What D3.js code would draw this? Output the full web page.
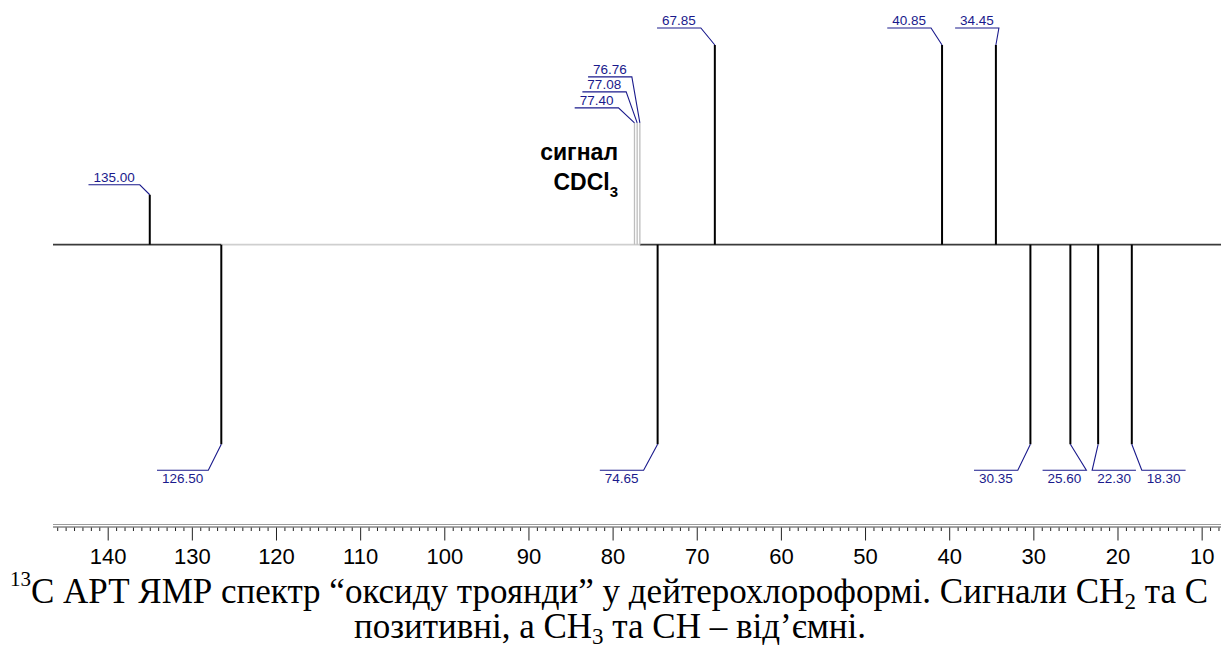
<!DOCTYPE html>
<html>
<head>
<meta charset="utf-8">
<script src="https://cdn.jsdelivr.net/npm/d3@7"></script>
<style>
  body { margin: 0; background: #fff; }
</style>
</head>
<body>
<div id="my_dataviz"></div>
<script>
var peakPpm = [135.00, 126.50, 77.40, 77.08, 76.76, 74.65, 67.85, 40.85, 34.45, 30.35, 25.60, 22.30, 18.30];
var peakIntensity = [25, -100, 61, 61, 61, -100, 100, 100, 100, -100, -100, -100, -100];
var peakLabels = ["135.00", "126.50", "77.40", "77.08", "76.76", "74.65", "67.85", "40.85", "34.45", "30.35", "25.60", "22.30", "18.30"];
var solventPeaks = ["77.40", "77.08", "76.76"];

// baseline pieces in ppm, the middle one is drawn light (solvent region)
var baselineSegments = [[146.5, 126.5], [126.5, 76.76], [76.76, 7.7]];
var lightSegment = 1;

var majorTicks = [140, 130, 120, 110, 100, 90, 80, 70, 60, 50, 40, 30, 20, 10];

// leader lines of the peak labels: elbow offset from peak tip, side of the underline
var leaderDx = [-10, -13, -16, -11, -8, -14, -14, -11, 3, -12.6, 16, -6, 10];
var leaderDy = [10, 26, 15, 31, 46, 26, 17, 17, 17, 26, 26, 26, 26];
var leaderSide = [-1, -1, -1, -1, -1, -1, -1, -1, -1, -1, -1, 1, 1];

var labelBlue = "#1a1a8c";
var sans = "'Liberation Sans', Arial, sans-serif";
var serif = "'Liberation Serif', 'Times New Roman', serif";

var svg = d3.select("#my_dataviz")
  .append("svg")
    .attr("width", 1221)
    .attr("height", 646);

var x = d3.scaleLinear().domain([146.5, 7.7]).range([53, 1221]);
var y = d3.scaleLinear().domain([-100, 100]).range([444.3, 45]);

var peaks = peakPpm.map(function(p, i) {
  return {ppm: p, value: peakIntensity[i], label: peakLabels[i],
          solvent: solventPeaks.indexOf(peakLabels[i]) >= 0,
          dx: leaderDx[i], dy: leaderDy[i], side: leaderSide[i]};
});

// baseline
svg.selectAll(".base")
  .data(baselineSegments)
  .enter().append("line")
    .attr("class", "base")
    .attr("x1", function(d) { return x(d[0]); })
    .attr("x2", function(d) { return x(d[1]); })
    .attr("y1", y(0))
    .attr("y2", y(0))
    .attr("stroke", function(d, i) { return i == lightSegment ? "#cfcfcf" : "#3a3a3a"; })
    .attr("stroke-width", 1.6);

// peaks
svg.selectAll(".peak")
  .data(peaks)
  .enter().append("line")
    .attr("class", "peak")
    .attr("x1", function(d) { return x(d.ppm); })
    .attr("x2", function(d) { return x(d.ppm); })
    .attr("y1", y(0))
    .attr("y2", function(d) { return y(d.value); })
    .attr("stroke", function(d) { return d.solvent ? "#bdbdbd" : "#000"; })
    .attr("stroke-width", function(d) { return d.solvent ? 1.3 : 2; });

// peak labels
var lab = svg.selectAll(".plabel")
  .data(peaks)
  .enter().append("g")
    .attr("class", "plabel");

lab.each(function(d) {
  var g = d3.select(this);
  var tipX = x(d.ppm), tipY = y(d.value);
  var up = d.value > 0;
  var ex = tipX + d.dx;
  var ey = up ? tipY - d.dy : tipY + d.dy;

  var t = g.append("text")
    .text(d.label)
    .attr("font-family", sans)
    .attr("font-size", 13.5)
    .attr("fill", labelBlue)
    .attr("text-anchor", "middle");
  var len = t.node().getComputedTextLength() + 10;
  t.attr("x", ex + d.side * len / 2)
   .attr("y", up ? ey - 3 : ey + 13);

  g.append("path")
    .attr("d", "M" + tipX + "," + tipY + "L" + ex + "," + ey + "L" + (ex + d.side * len) + "," + ey)
    .attr("fill", "none")
    .attr("stroke", labelBlue)
    .attr("stroke-width", 1.1);
});

// solvent note
svg.append("text")
  .text("сигнал")
  .attr("x", 618)
  .attr("y", 160)
  .attr("text-anchor", "end")
  .attr("font-family", sans)
  .attr("font-weight", "bold")
  .attr("font-size", 23)
  .attr("fill", "#000");

var cd = svg.append("text")
  .attr("x", 618)
  .attr("y", 190)
  .attr("text-anchor", "end")
  .attr("font-family", sans)
  .attr("font-weight", "bold")
  .attr("font-size", 23)
  .attr("fill", "#000");
cd.append("tspan").text("CDCl");
cd.append("tspan").text("3").attr("font-size", 15).attr("dy", 7);

// axis
var axisY = 527.5;
svg.append("line")
  .attr("x1", 53).attr("x2", 1221)
  .attr("y1", axisY - 3).attr("y2", axisY - 3)
  .attr("stroke", "#9a9a9a").attr("stroke-width", 1);
svg.append("line")
  .attr("x1", 53).attr("x2", 1221)
  .attr("y1", axisY - 0.5).attr("y2", axisY - 0.5)
  .attr("stroke", "#4a4a4a").attr("stroke-width", 1);

var minorTicks = d3.range(8, 147).filter(function(v) { return v % 10 != 0; });

var minorAxis = svg.append("g")
  .attr("transform", "translate(0," + axisY + ")")
  .call(d3.axisBottom(x).tickValues(minorTicks).tickSize(3.5).tickFormat(""));
minorAxis.select(".domain").remove();
minorAxis.selectAll("line").attr("stroke", "#222");

var majorAxis = svg.append("g")
  .attr("transform", "translate(0," + axisY + ")")
  .call(d3.axisBottom(x).tickValues(majorTicks).tickSize(13).tickPadding(7.5));
majorAxis.select(".domain").remove();
majorAxis.selectAll("line").attr("stroke", "#222");
majorAxis.selectAll("text")
  .attr("font-family", sans)
  .attr("font-size", 22)
  .attr("fill", "#000");

// caption
var cap1 = svg.append("text")
  .attr("x", 609)
  .attr("y", 602.7)
  .attr("text-anchor", "middle")
  .attr("font-family", serif)
  .attr("font-size", 35)
  .attr("fill", "#000");
cap1.append("tspan").text("13").attr("font-size", 21).attr("dy", -17);
cap1.append("tspan").text("C АРТ ЯМР спектр “оксиду троянди” у дейтерохлороформі. Сигнали CH").attr("dy", 17);
cap1.append("tspan").text("2").attr("font-size", 23).attr("dy", 6);
cap1.append("tspan").text(" та C").attr("dy", -6);

var cap2 = svg.append("text")
  .attr("x", 610)
  .attr("y", 638)
  .attr("text-anchor", "middle")
  .attr("font-family", serif)
  .attr("font-size", 35)
  .attr("fill", "#000");
cap2.append("tspan").text("позитивні, а CH");
cap2.append("tspan").text("3").attr("font-size", 23).attr("dy", 6);
cap2.append("tspan").text(" та CH – від’ємні.").attr("dy", -6);
</script>
</body>
</html>
